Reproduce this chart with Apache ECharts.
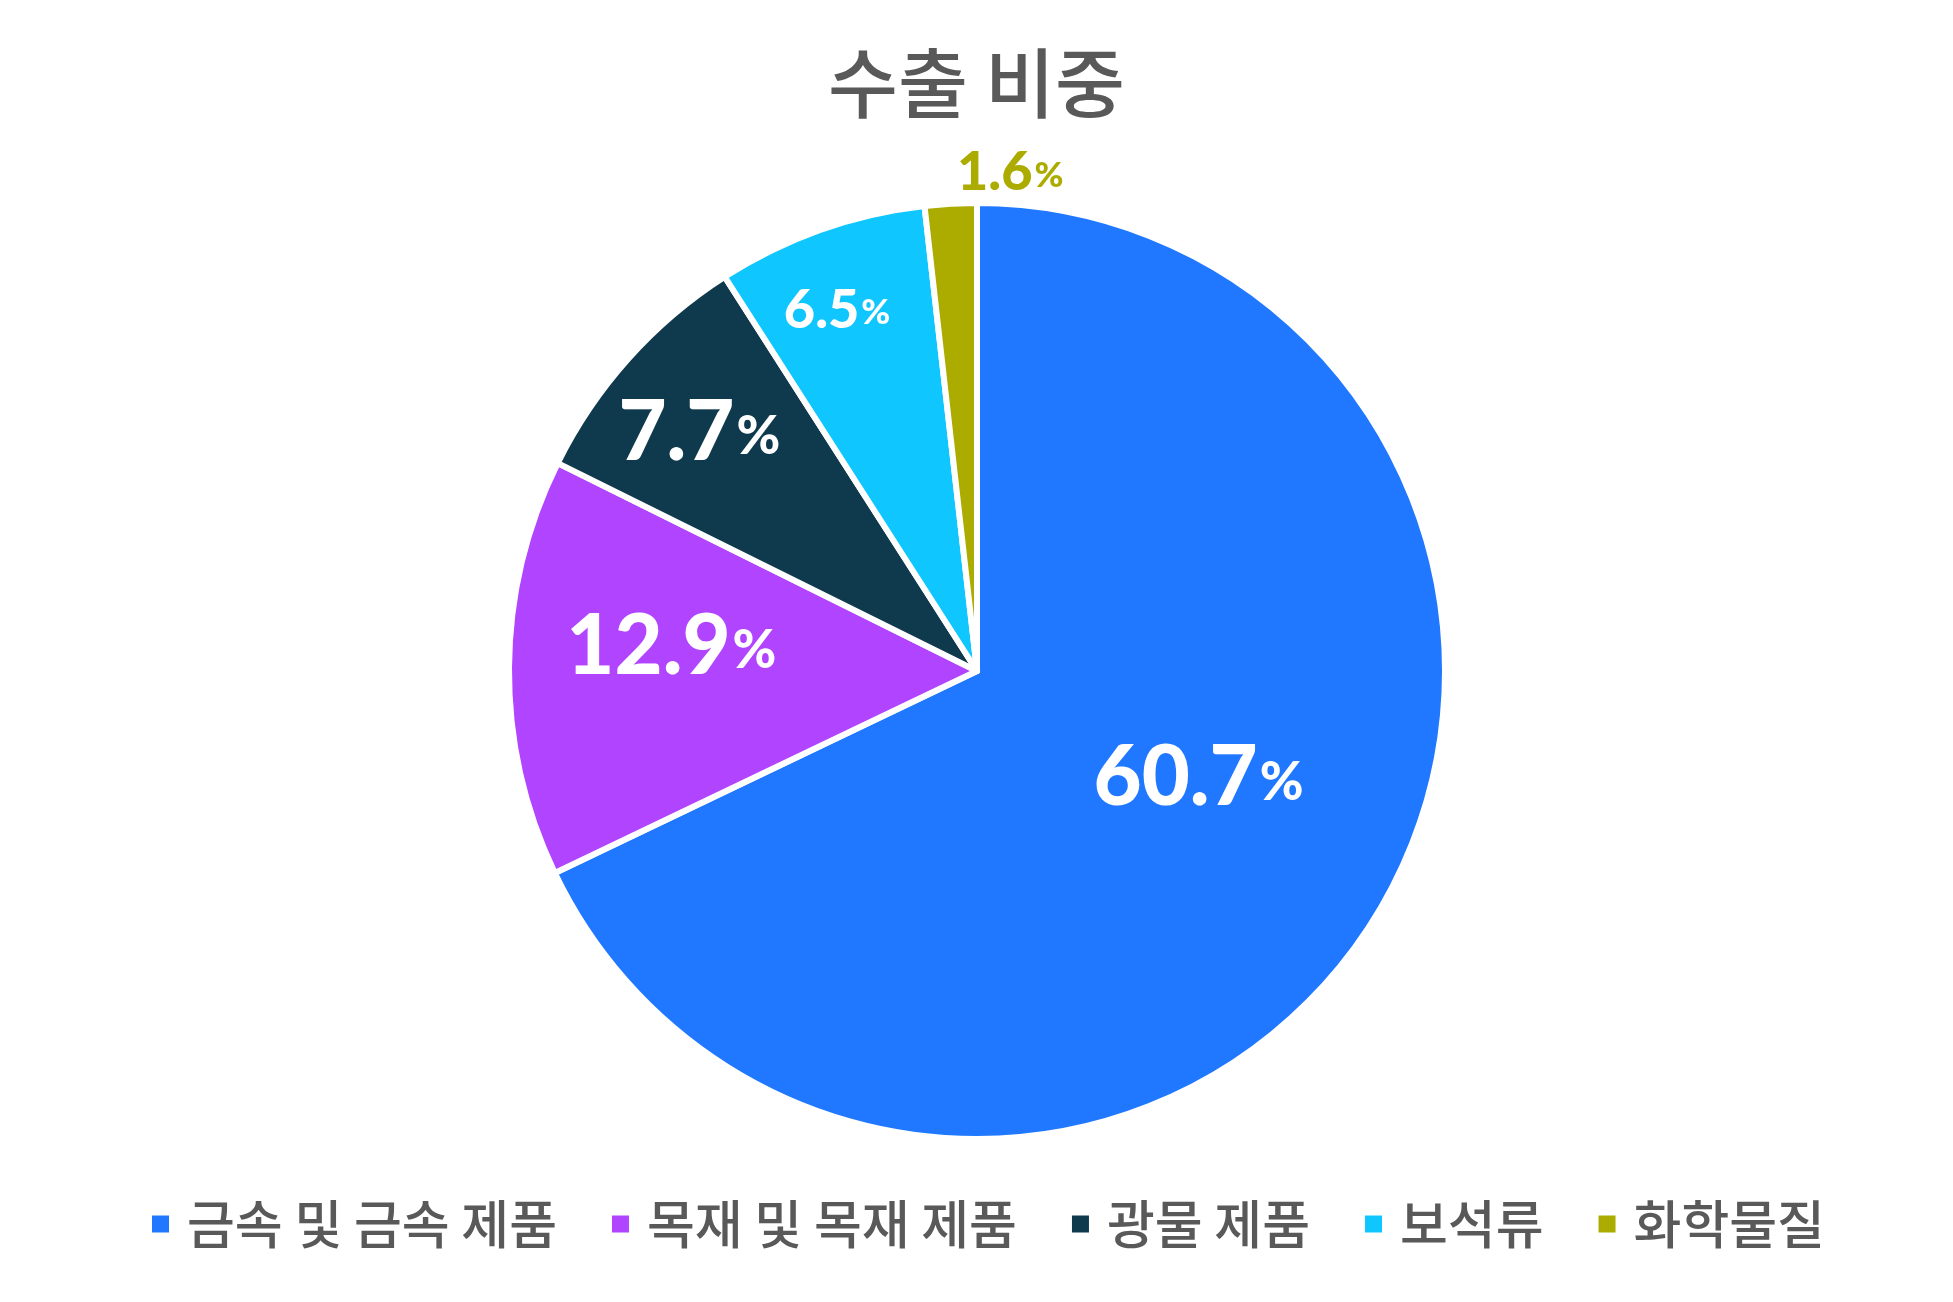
<!DOCTYPE html>
<html>
<head>
<meta charset="utf-8">
<script src="https://cdn.jsdelivr.net/npm/echarts@6/dist/echarts.min.js"></script>
<style>
  html, body { margin: 0; padding: 0; background: #fff; }
  #main { width: 1953px; height: 1302px; }
</style>
</head>
<body>
<div id="main"></div>
<script>
var mychart = echarts.init(document.getElementById('main'));

// categories and values (share of exports, %)
var names = ['금속 및 금속 제품', '목재 및 목재 제품', '광물 제품', '보석류', '화학물질'];
var values = [60.7, 12.9, 7.7, 6.5, 1.6];
var colors = ['#1f78ff', '#b144ff', '#0f394d', '#10c6ff', '#abab00'];

// label look per slice
var labelSize = [83, 83, 83, 54, 54];
var labelColor = ['#fff', '#fff', '#fff', '#fff', '#abab00'];
// how far out from the default inside spot each label sits
var labelPull = [1.04, 1.315, 1.579, 1.678, 2.164];
var labelShiftX = [13, 6, 1, -7, 62];
var labelShiftY = [-24, -22, 12, 14, 14];

var cx = 977, cy = 671;

var data = [];
for (let i = 0; i < names.length; i++) {
    data.push({
        name: names[i],
        value: values[i],
        itemStyle: { color: colors[i] },
        label: {
            color: labelColor[i],
            rich: {
                v: { fontSize: labelSize[i], fontFamily: 'Lato', fontWeight: 900, color: labelColor[i] },
                p: { fontSize: Math.round(labelSize[i] * 0.64), fontFamily: 'Lato', fontWeight: 900, color: labelColor[i], padding: [labelSize[i] * 0.1, 0, 0, 2] }
            }
        }
    });
}

var option = {
    backgroundColor: '#fff',
    animation: false,
    title: {
        text: '수출 비중',
        left: 'center',
        top: 40,
        textStyle: {
            fontFamily: 'Noto Sans CJK KR',
            fontSize: 76,
            fontWeight: 500,
            color: '#595959'
        }
    },
    legend: {
        data: names,
        left: 145,
        top: 1193,
        icon: 'rect',
        itemWidth: 19,
        itemHeight: 19,
        itemGap: 53,
        textStyle: {
            fontFamily: 'Noto Sans CJK KR',
            fontSize: 52,
            fontWeight: 500,
            color: '#595959',
            padding: [0, 0, 0, 12]
        }
    },
    series: [{
        type: 'pie',
        center: [cx, cy],
        radius: [0, 468],
        startAngle: 90,
        clockwise: true,
        itemStyle: { borderColor: '#fff', borderWidth: 6 },
        label: {
            show: true,
            position: 'inside',
            formatter: '{v|{c}}{p|%}'
        },
        labelLine: { show: false },
        emphasis: { disabled: true },
        labelLayout: function (p) {
            var i = p.dataIndex;
            var r = p.labelRect;
            var lx = r.x + r.width / 2;
            var ly = r.y + r.height / 2;
            var k = labelPull[i];
            return {
                dx: (lx - cx) * (k - 1) + labelShiftX[i],
                dy: (ly - cy) * (k - 1) + labelShiftY[i]
            };
        },
        data: data
    }]
};

mychart.setOption(option);
</script>
</body>
</html>
